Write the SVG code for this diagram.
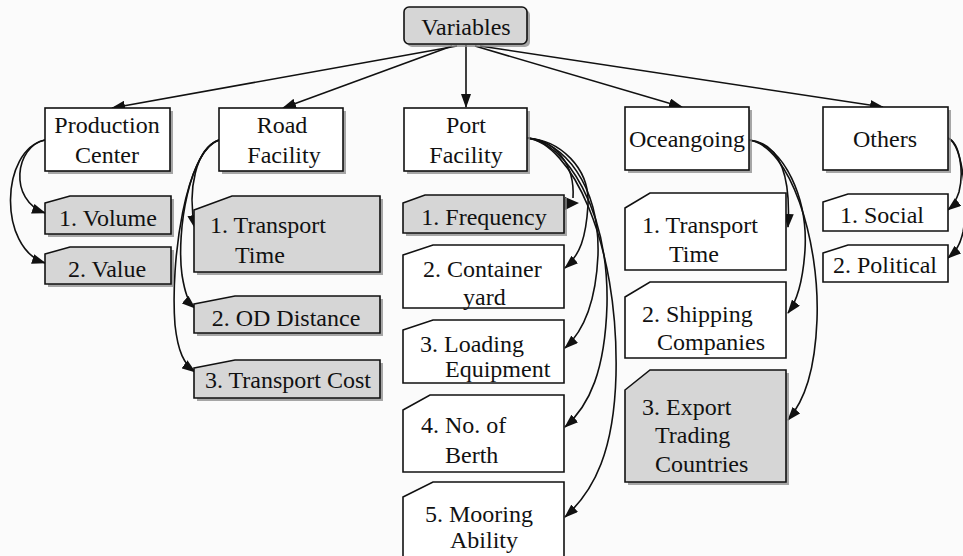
<svg xmlns="http://www.w3.org/2000/svg" width="963" height="556" viewBox="0 0 963 556">
  <defs>
    <marker id="ah" viewBox="0 0 14 10" refX="13" refY="5" markerWidth="14" markerHeight="10" markerUnits="userSpaceOnUse" orient="auto">
      <path d="M0,0 L14,5 L0,10 Z" fill="#111"/>
    </marker>
  </defs>
  <style>
    .c { text-anchor: middle; }
    .box { stroke: #111; stroke-width: 1.6; }
    .grey { fill: #d6d6d6; }
    .white { fill: #ffffff; }
    .shadow { fill: #8a8a8a; opacity: 0.75; }
    .link { fill: none; stroke: #111; stroke-width: 1.6; marker-end: url(#ah); }
    .bare { fill: none; stroke: #111; stroke-width: 1.6; }
  </style>
  <rect width="963" height="556" fill="#fbfbfb"/>

  <!-- connectors -->
  <g id="connectors">
    <!-- root to categories -->
    <path class="link" d="M457,46 L112,108"/>
    <path class="link" d="M452,46 L283,108"/>
    <path class="link" d="M466,45 L466,107"/>
    <path class="link" d="M475,46 L682,107"/>
    <path class="link" d="M480,46 L883,107"/>
    <!-- production center -->
    <path class="link" d="M45,140 C15,146 8,200 45,213"/>
    <path class="link" d="M45,140 C0,150 -2,248 45,263"/>
    <!-- road facility -->
    <path class="link" d="M219,140 C196,148 187,190 195,228"/>
    <path class="link" d="M219,140 C190,150 176,230 182,275 C185,293 188,302 195,308"/>
    <path class="link" d="M219,140 C186,150 170,260 175,325 C178,352 184,364 195,372"/>
    <!-- port facility -->
    <path class="bare" d="M527,138 C556,140 575,165 573,198"/>
    <polygon points="565,197 579,203 565,210" fill="#111"/>
    <path class="link" d="M527,138 C560,140 590,168 588,205 C586,238 580,255 565,268"/>
    <path class="link" d="M527,138 C563,141 600,185 598,255 C596,300 585,330 565,348"/>
    <path class="link" d="M527,138 C566,142 609,210 607,305 C605,370 590,405 565,427"/>
    <path class="link" d="M527,138 C570,143 619,240 616,375 C614,450 595,490 565,517"/>
    <!-- oceangoing -->
    <path class="link" d="M749,140 C780,143 791,175 788,227"/>
    <path class="link" d="M749,140 C785,145 808,200 805,250 C803,280 798,300 788,313"/>
    <path class="link" d="M749,140 C790,146 820,240 817,320 C815,370 805,400 788,420"/>
    <!-- others -->
    <path class="link" d="M948,138 C960,143 964,172 959,192 C956,201 953,206 948,210"/>
    <path class="link" d="M948,138 C964,146 968,205 963,232 C960,246 955,252 948,258"/>
  </g>

  <g font-family="Liberation Serif, Times New Roman, Tinos, FreeSerif, DejaVu Serif, serif" font-size="24" fill="#111">
  <!-- root -->
  <g id="variables">
    <rect class="shadow" x="407" y="10" width="123" height="37" rx="5"/>
    <rect class="box grey" x="404" y="7" width="123" height="37" rx="5"/>
    <text class="c" x="466" y="35">Variables</text>
  </g>

  <!-- categories -->
  <g id="production-center">
    <rect class="shadow" x="48" y="111" width="125" height="63"/>
    <rect class="box white" x="45" y="108" width="125" height="63"/>
    <text class="c" x="107" y="133">Production</text>
    <text class="c" x="107" y="163">Center</text>
  </g>
  <g id="road-facility">
    <rect class="shadow" x="222" y="111" width="124" height="63"/>
    <rect class="box white" x="219" y="108" width="124" height="63"/>
    <text class="c" x="282" y="133">Road</text>
    <text class="c" x="284" y="163">Facility</text>
  </g>
  <g id="port-facility">
    <rect class="shadow" x="407" y="111" width="123" height="63"/>
    <rect class="box white" x="404" y="108" width="123" height="63"/>
    <text class="c" x="466" y="133">Port</text>
    <text class="c" x="466" y="163">Facility</text>
  </g>
  <g id="oceangoing">
    <rect class="shadow" x="628" y="110" width="124" height="63"/>
    <rect class="box white" x="625" y="107" width="124" height="63"/>
    <text class="c" x="687" y="147">Oceangoing</text>
  </g>
  <g id="others">
    <rect class="shadow" x="826" y="110" width="125" height="63"/>
    <rect class="box white" x="823" y="107" width="125" height="63"/>
    <text class="c" x="885" y="147">Others</text>
  </g>

  <!-- production center items -->
  <g id="volume">
    <polygon class="shadow" points="48,206 73,199 174,199 174,237 48,237"/>
    <polygon class="box grey" points="45,203 70,196 171,196 171,234 45,234"/>
    <text class="c" x="108" y="226">1. Volume</text>
  </g>
  <g id="value">
    <polygon class="shadow" points="48,257 73,250 174,250 174,287 48,287"/>
    <polygon class="box grey" points="45,254 70,247 171,247 171,284 45,284"/>
    <text class="c" x="107" y="277">2. Value</text>
  </g>

  <!-- road facility items -->
  <g id="road-transport-time">
    <polygon class="shadow" points="197,213 235,199 383,199 383,275 197,275"/>
    <polygon class="box grey" points="194,210 232,196 380,196 380,272 194,272"/>
    <text x="210" y="233">1. Transport</text>
    <text x="235" y="263">Time</text>
  </g>
  <g id="od-distance">
    <polygon class="shadow" points="197,307 238,299 383,299 383,336 197,336"/>
    <polygon class="box grey" points="194,304 235,296 380,296 380,333 194,333"/>
    <text class="c" x="286" y="326">2. OD Distance</text>
  </g>
  <g id="transport-cost">
    <polygon class="shadow" points="197,371 238,363 383,363 383,401 197,401"/>
    <polygon class="box grey" points="194,368 235,360 380,360 380,398 194,398"/>
    <text class="c" x="288" y="388">3. Transport Cost</text>
  </g>

  <!-- port facility items -->
  <g id="frequency">
    <polygon class="shadow" points="406,206 428,198 567,198 567,236 406,236"/>
    <polygon class="box grey" points="403,203 425,195 564,195 564,233 403,233"/>
    <text class="c" x="484" y="225">1. Frequency</text>
  </g>
  <g id="container-yard">
    <polygon class="box white" points="403,255 433,245 564,245 564,308 403,308"/>
    <text x="423" y="277">2. Container</text>
    <text x="463" y="305">yard</text>
  </g>
  <g id="loading-equipment">
    <polygon class="box white" points="403,330 433,320 564,320 564,383 403,383"/>
    <text x="420" y="352">3. Loading</text>
    <text x="445" y="377">Equipment</text>
  </g>
  <g id="berth">
    <polygon class="box white" points="403,410 430,395 564,395 564,472 403,472"/>
    <text x="421" y="433">4. No. of</text>
    <text x="445" y="463">Berth</text>
  </g>
  <g id="mooring">
    <polygon class="box white" points="403,497 433,482 564,482 564,560 403,560"/>
    <text x="425" y="522">5. Mooring</text>
    <text x="450" y="548">Ability</text>
  </g>

  <!-- oceangoing items -->
  <g id="ocean-transport-time">
    <polygon class="box white" points="625,208 650,193 786,193 786,270 625,270"/>
    <text x="642" y="233">1. Transport</text>
    <text x="669" y="262">Time</text>
  </g>
  <g id="shipping-companies">
    <polygon class="box white" points="625,297 650,282 786,282 786,358 625,358"/>
    <text x="642" y="322">2. Shipping</text>
    <text x="657" y="350">Companies</text>
  </g>
  <g id="export-countries">
    <polygon class="shadow" points="628,393 653,373 789,373 789,485 628,485"/>
    <polygon class="box grey" points="625,390 650,370 786,370 786,482 625,482"/>
    <text x="642" y="415">3. Export</text>
    <text x="655" y="443">Trading</text>
    <text x="655" y="472">Countries</text>
  </g>

  <!-- other items -->
  <g id="social">
    <polygon class="box white" points="823,202 848,194 948,194 948,231 823,231"/>
    <text class="c" x="882" y="223">1. Social</text>
  </g>
  <g id="political">
    <polygon class="box white" points="823,253 848,245 948,245 948,282 823,282"/>
    <text class="c" x="885" y="273">2. Political</text>
  </g>
  </g>
</svg>
